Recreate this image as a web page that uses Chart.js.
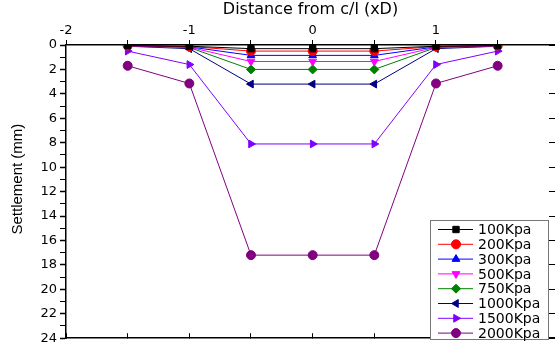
<!DOCTYPE html>
<html lang="en">
<head>
    <meta charset="UTF-8">
    <title>Settlement profile</title>
    <style>
        body { margin: 0; padding: 0; background: #fff; }
        .chart-container { width: 555px; height: 349px; }
    </style>
</head>
<body>
    <div class="chart-container">
        <canvas id="settleChart" width="555" height="349"></canvas>
    </div>

    <script src="https://cdn.jsdelivr.net/npm/chart.js"></script>

    <script>
        // distance from centre line (xD)
        const distances = [-1.5, -1, -0.5, 0, 0.5, 1, 1.5];

        // settlement (mm) for each load
        const s100  = [0.05, 0.10, 0.30, 0.30, 0.30, 0.10, 0.05];
        const s200  = [0.05, 0.12, 0.50, 0.50, 0.50, 0.12, 0.05];
        const s300  = [0.05, 0.15, 0.85, 0.85, 0.85, 0.15, 0.05];
        const s500  = [0.08, 0.18, 1.35, 1.35, 1.35, 0.18, 0.08];
        const s750  = [0.10, 0.20, 2.00, 2.00, 2.00, 0.20, 0.10];
        const s1000 = [0.10, 0.30, 3.20, 3.20, 3.20, 0.30, 0.10];
        const s1500 = [0.50, 1.60, 8.10, 8.10, 8.10, 1.60, 0.50];
        const s2000 = [1.70, 3.15, 17.20, 17.20, 17.20, 3.15, 1.70];

        const loadLabels = ['100Kpa', '200Kpa', '300Kpa', '500Kpa', '750Kpa', '1000Kpa', '1500Kpa', '2000Kpa'];
        const xTickLabels = ['-2', '-1', '0', '1'];

        const series = [s100, s200, s300, s500, s750, s1000, s1500, s2000];
        const colors = ['#000000', '#ff0000', '#0000ff', '#ff00ff', '#008000', '#000080', '#8000ff', '#800080'];
        const styles = ['rect', 'circle', 'triangle', 'triangle', 'rectRot', 'triangle', 'triangle', 'circle'];
        const rotations = [0, 0, 0, 180, 0, -90, 90, 0];

        const fontFam = 'Arial, "Liberation Sans", sans-serif';
        const wideFam = '"DejaVu Sans", Arial, sans-serif';

        const datasets = series.map((vals, i) => ({
            label: loadLabels[i],
            data: vals.map((v, j) => ({ x: distances[j], y: v })),
            showLine: true,
            borderColor: colors[i],
            backgroundColor: colors[i],
            borderWidth: 1,
            pointStyle: styles[i],
            rotation: rotations[i],
            pointRadius: 4.5,
            pointBorderWidth: 1
        }));

        const xTicks = s => {
            s.ticks = [-2, -1.5, -1, -0.5, 0, 0.5, 1, 1.5].map(v => ({ value: v }));
        };

        // legend box drawn inside the plot (lower right)
        const boxLegend = {
            id: 'boxLegend',
            afterDraw(chart) {
                const ctx = chart.ctx;
                const x0 = 430, y0 = 220, w = 118, h = 119;
                ctx.save();
                ctx.fillStyle = '#fff';
                ctx.fillRect(x0, y0, w, h);
                ctx.strokeStyle = '#777';
                ctx.lineWidth = 1;
                ctx.strokeRect(x0 + 0.5, y0 + 0.5, w, h);
                ctx.font = '14px ' + wideFam;
                ctx.textBaseline = 'middle';
                chart.data.datasets.forEach((ds, i) => {
                    const y = y0 + 9.5 + i * 14.8;
                    ctx.strokeStyle = ds.borderColor;
                    ctx.beginPath();
                    ctx.moveTo(x0 + 8, y);
                    ctx.lineTo(x0 + 43, y);
                    ctx.stroke();
                    ctx.fillStyle = ds.backgroundColor;
                    Chart.helpers.drawPoint(ctx, {
                        pointStyle: ds.pointStyle,
                        rotation: ds.rotation,
                        radius: 4.5,
                        borderWidth: 1
                    }, x0 + 26, y);
                    ctx.fillStyle = '#000';
                    ctx.fillText(ds.label, x0 + 48, y + 1);
                });
                ctx.restore();
            }
        };

        const ctx = document.getElementById('settleChart').getContext('2d');
        new Chart(ctx, {
            type: 'scatter',
            data: { datasets: datasets },
            plugins: [boxLegend],
            options: {
                responsive: false,
                animation: false,
                layout: { padding: 0, autoPadding: false },
                plugins: {
                    legend: { display: false },
                    tooltip: { enabled: false }
                },
                scales: {
                    x: {
                        type: 'linear',
                        position: 'top',
                        min: -2,
                        max: 1.965,
                        afterBuildTicks: xTicks,
                        afterFit: s => { s.height = 45; s.paddingLeft = 0; s.paddingRight = 0; },
                        ticks: {
                            color: '#000',
                            padding: 2,
                            maxRotation: 0,
                            autoSkip: false,
                            font: { family: wideFam, size: 13 },
                            callback: v => Number.isInteger(v) ? xTickLabels[v + 2] : ''
                        },
                        grid: { drawOnChartArea: false, color: '#000', tickLength: 5 },
                        border: { color: '#000', width: 1.5 },
                        title: {
                            display: true,
                            text: 'Distance from c/l (xD)',
                            color: '#000',
                            padding: { top: 0, bottom: 0 },
                            font: { family: wideFam, size: 16 }
                        }
                    },
                    xb: {
                        type: 'linear',
                        position: 'bottom',
                        min: -2,
                        max: 1.965,
                        afterBuildTicks: xTicks,
                        afterFit: s => { s.height = 3; s.paddingLeft = 0; s.paddingRight = 0; },
                        ticks: { display: false },
                        grid: { drawOnChartArea: false, color: '#000', tickLength: -5 },
                        border: { color: '#000', width: 1.5 }
                    },
                    y: {
                        type: 'linear',
                        position: 'left',
                        reverse: true,
                        min: 0,
                        max: 24,
                        afterFit: s => { s.width = 66; },
                        ticks: {
                            stepSize: 1,
                            autoSkip: false,
                            color: '#000',
                            padding: 3,
                            font: { family: wideFam, size: 13 },
                            callback: v => v % 2 === 0 ? v : ''
                        },
                        grid: {
                            drawOnChartArea: false,
                            color: '#000',
                            tickLength: 6,
                            tickWidth: c => c.tick && c.tick.value % 2 === 0 ? 1.5 : 1
                        },
                        border: { color: '#000', width: 1.5 },
                        title: {
                            display: true,
                            // leading spaces nudge the rotated title up, as in the original
                            text: '      Settlement (mm)',
                            color: '#000',
                            padding: { top: 9, bottom: 0 },
                            font: { family: fontFam, size: 15 }
                        }
                    },
                    yr: {
                        type: 'linear',
                        position: 'right',
                        reverse: true,
                        min: 0,
                        max: 24,
                        afterFit: s => { s.width = 0; },
                        ticks: { display: false, stepSize: 2 },
                        grid: { drawOnChartArea: false, color: '#000', tickLength: -6 },
                        border: { display: false }
                    }
                }
            }
        });
    </script>
</body>
</html>
